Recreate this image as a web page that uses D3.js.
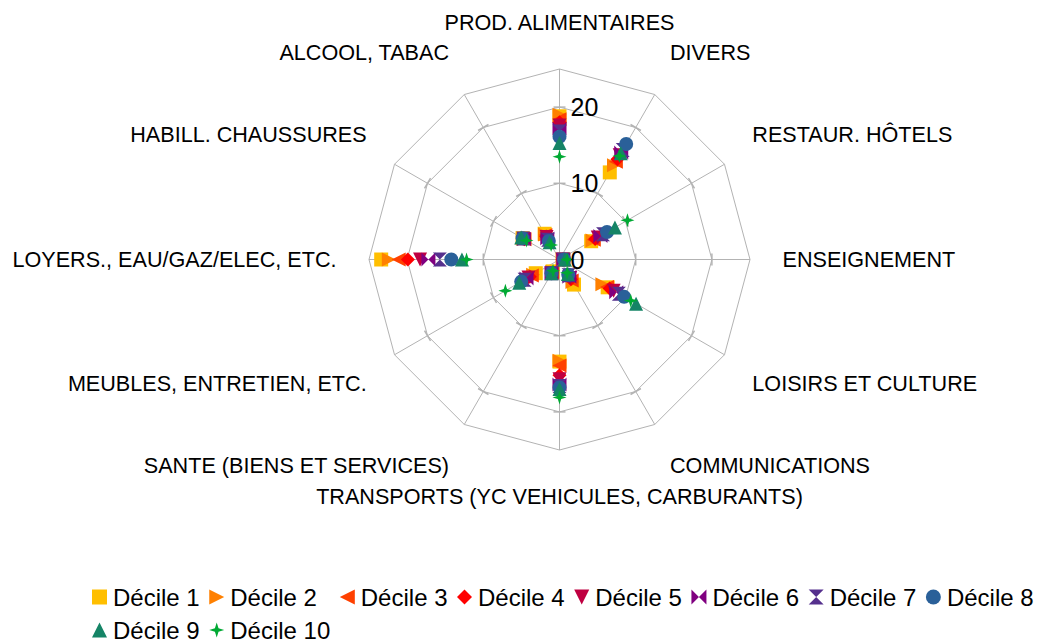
<!DOCTYPE html>
<html><head><meta charset="utf-8">
<script src="https://cdn.jsdelivr.net/npm/d3@7"></script>
<style>
html,body{margin:0;padding:0;background:#fff;}
svg{display:block;font-family:"Liberation Sans",Arial,sans-serif;}
</style></head>
<body><svg id="chart" width="1038" height="644"></svg>
<script>
const categories = ["PROD. ALIMENTAIRES","DIVERS","RESTAUR. HÔTELS","ENSEIGNEMENT","LOISIRS ET CULTURE","COMMUNICATIONS","TRANSPORTS (YC VEHICULES, CARBURANTS)","SANTE (BIENS ET SERVICES)","MEUBLES, ENTRETIEN, ETC.","LOYERS., EAU/GAZ/ELEC, ETC.","HABILL. CHAUSSURES","ALCOOL, TABAC"];
const seriesNames = ["Décile 1","Décile 2","Décile 3","Décile 4","Décile 5","Décile 6","Décile 7","Décile 8","Décile 9","Décile 10"];
const decile1  = [18.8, 13.2, 4.8, 0.5, 7.3, 3.8, 13.4, 1.8, 3.6, 23.4, 5.6, 3.9];
const decile2  = [19.0, 14.3, 5.0, 0.4, 6.5, 3.4, 13.3, 1.9, 4.0, 22.4, 5.4, 3.8];
const decile3  = [18.4, 14.8, 5.2, 0.4, 7.2, 3.2, 13.9, 2.0, 4.2, 21.1, 5.3, 3.7];
const decile4  = [18.0, 15.2, 5.4, 0.4, 7.6, 3.0, 15.2, 2.0, 4.5, 19.9, 5.3, 3.5];
const decile5  = [17.6, 15.8, 5.8, 0.4, 8.2, 2.8, 15.7, 2.1, 4.7, 18.3, 5.4, 3.4];
const decile6  = [17.2, 16.2, 6.2, 0.5, 8.6, 2.6, 16.4, 2.1, 5.0, 17.2, 5.4, 3.2];
const decile7  = [16.8, 16.6, 6.6, 0.5, 9.0, 2.4, 16.6, 2.1, 5.3, 15.7, 5.5, 3.0];
const decile8  = [16.1, 17.5, 7.2, 0.6, 9.8, 2.3, 16.8, 2.1, 5.8, 14.2, 5.6, 2.8];
const decile9  = [15.3, 16.1, 8.4, 0.7, 11.6, 2.2, 17.0, 2.1, 6.1, 12.8, 5.8, 2.6];
const decile10 = [13.5, 15.7, 10.3, 1.0, 10.8, 2.0, 18.1, 1.7, 8.2, 12.2, 5.0, 2.2];
const seriesValues = [decile1,decile2,decile3,decile4,decile5,decile6,decile7,decile8,decile9,decile10];
const colors = ["#FFBF00","#FF8000","#FF4000","#FF0000","#BF0041","#800080","#55308D","#2A6099","#158466","#00A933"];
const shapes = ["square","right","left","diamond","down","bowtie","hourglass","circle","up","star"];
const tickValues = [0, 10, 20];
const gridValues = [10, 20, 25];
const maxValue = 25;

const svg = d3.select("#chart");
const cx = 559.5, cy = 259.5, R = 190.5;
const r = d3.scaleLinear().domain([0, maxValue]).range([0, R]);
const step = 2*Math.PI/categories.length;
const ang = c => categories.indexOf(c)*step;
const pt = (c, v) => { const a = ang(c); return [cx + r(v)*Math.sin(a), cy - r(v)*Math.cos(a)]; };

function symbolPath(shape, size) {
  const s = size/2;
  switch (shape) {
    case "square": return `M${-s},${-s}H${s}V${s}H${-s}Z`;
    case "right": return `M${-s},${-s}L${s},0L${-s},${s}Z`;
    case "left": return `M${s},${-s}L${-s},0L${s},${s}Z`;
    case "diamond": return `M0,${-s}L${s},0L0,${s}L${-s},0Z`;
    case "down": return `M${-s},${-s}L${s},${-s}L0,${s}Z`;
    case "up": return `M0,${-s}L${s},${s}L${-s},${s}Z`;
    case "bowtie": return `M${-s},${-s}L0,0L${s},${-s}L${s},${s}L0,0L${-s},${s}Z`;
    case "hourglass": return `M${-s},${-s}L${s},${-s}L0,0L${s},${s}L${-s},${s}L0,0Z`;
    case "circle": return `M${s},0A${s},${s} 0 1,1 ${-s},0A${s},${s} 0 1,1 ${s},0Z`;
    case "star": { const k = s*0.24; return `M0,${-s}L${k},${-k}L${s},0L${k},${k}L0,${s}L${-k},${k}L${-s},0L${-k},${-k}Z`; }
  }
}

const grid = svg.append("g").attr("stroke","#b3b3b3").attr("fill","none").attr("stroke-width",1);
gridValues.forEach(v => {
  grid.append("path").attr("d", d3.line()(categories.map(c => pt(c, v))) + "Z");
});
categories.forEach(c => {
  const [x, y] = pt(c, maxValue);
  grid.append("line").attr("x1", cx).attr("y1", cy).attr("x2", x).attr("y2", y);
});
categories.forEach(c => {
  const a = ang(c);
  [10, 20].forEach(v => {
    const [x, y] = pt(c, v);
    const dx = Math.cos(a)*6, dy = Math.sin(a)*6;
    grid.append("line").attr("x1", x - dx).attr("y1", y - dy).attr("x2", x + dx).attr("y2", y + dy)
      .attr("stroke-width", 1.5);
  });
});

seriesValues.forEach((vals, si) => {
  const g = svg.append("g").attr("fill", colors[si]);
  g.selectAll("path").data(vals).join("path")
    .attr("d", symbolPath(shapes[si], 14))
    .attr("transform", (d, i) => { const [x, y] = pt(categories[i], d); return `translate(${x},${y})`; });
});

categories.forEach(c => {
  const a = ang(c);
  const s = Math.sin(a), co = Math.cos(a);
  const px = cx + 225*s, py = cy - 225*co;
  let anchor = Math.abs(s) < 0.01 ? "middle" : (s > 0 ? "start" : "end");
  let x = px + (Math.abs(s) < 0.01 ? 0 : (s > 0 ? -2 : 2));
  let y;
  if (co > 0.01) y = py - 5; else if (co < -0.01) y = py + 19; else y = py + 7.5;
  svg.append("text").attr("x", x).attr("y", y).attr("text-anchor", anchor)
    .attr("font-size", 21.6).attr("fill", "#000").text(c);
});

tickValues.forEach(v => {
  svg.append("text").attr("x", cx + 11).attr("y", cy - r(v) + 9)
    .attr("font-size", 25).attr("fill", "#000").text(v);
});

const leg = svg.append("g");
const legFont = 24, mSize = 15, gapT = 6, colGap = 9.5;
const perRow = 8;
const meas = svg.append("text").attr("font-size", legFont).style("visibility","hidden");
const widths = seriesNames.map(n => { meas.text(n); return meas.node().getComputedTextLength(); });
meas.remove();
const colW = [];
for (let c = 0; c < perRow; c++) {
  let m = 0;
  for (let i = c; i < seriesNames.length; i += perRow) m = Math.max(m, widths[i]);
  colW.push(mSize + gapT + m + colGap);
}
const colX = [92];
for (let c = 1; c < perRow; c++) colX.push(colX[c-1] + colW[c-1]);
const rowY = [597, 630];
seriesNames.forEach((n, i) => {
  const col = i % perRow, row = Math.floor(i / perRow);
  const x0 = colX[col], yc = rowY[row];
  leg.append("path").attr("d", symbolPath(shapes[i], mSize)).attr("fill", colors[i])
    .attr("transform", `translate(${x0 + mSize/2},${yc})`);
  leg.append("text").attr("x", x0 + mSize + gapT).attr("y", yc + 8.5)
    .attr("font-size", legFont).attr("fill", "#000").text(n);
});
</script>
</body></html>
